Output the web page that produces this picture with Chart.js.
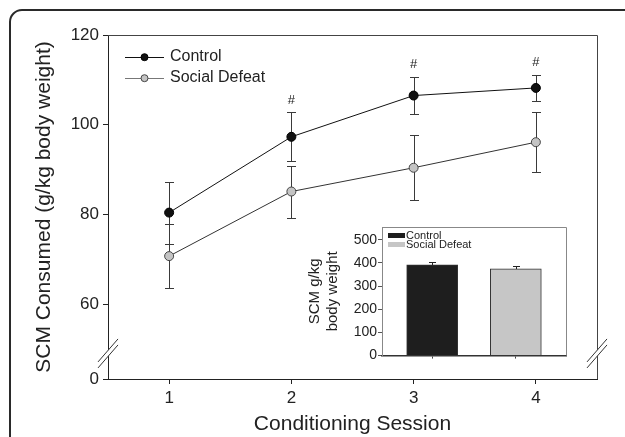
<!DOCTYPE html>
<html>
<head>
<meta charset="utf-8">
<script src="https://cdn.jsdelivr.net/npm/chart.js@4.4.1/dist/chart.umd.min.js"></script>
<style>
  html, body { margin: 0; padding: 0; background: #fff; overflow: hidden; }
  #wrap { position: relative; width: 625px; height: 437px; overflow: hidden; }
  #frame { position: absolute; left: 9px; top: 9px; width: 700px; height: 500px;
           border: 2px solid #2a2a2a; border-top-left-radius: 13px; }
  #main { position: absolute; left: 0; top: 0; }
  #inset { position: absolute; left: 300px; top: 215px; }
</style>
</head>
<body>
<div id="wrap">
  <div id="frame"></div>
  <canvas id="main" width="625" height="437"></canvas>
  <canvas id="inset" width="272" height="150"></canvas>
</div>
<script>
// main panel data
const sessions = [1, 2, 3, 4];
const controlMean = [80.4, 97.3, 106.5, 108.2];
const controlErr = [6.9, 5.5, 4.2, 2.9];
const defeatMean = [70.7, 85.1, 90.4, 96.1];
const defeatErr = [7.1, 5.8, 7.2, 6.7];
const sigMarks = ['', '#', '#', '#'];
const yTickValues = [60, 80, 100, 120];

// inset data
const insetGroups = ['Control', 'Social Defeat'];
const insetMean = [392, 374];
const insetErr = [11, 13];
const insetYTicks = [0, 100, 200, 300, 400, 500];

const FONT = '"Liberation Sans", Arial, sans-serif';
const INK = '#222';
// the axis is broken below 60: the "0" tick sits at this value
const axisBreakFloor = 43.3;

Chart.defaults.font.family = FONT;
Chart.defaults.color = INK;

// vertical error bars, drawn under the markers
const errorBars = {
    id: 'errorBars',
    beforeDatasetsDraw(chart, args, opts) {
        const ctx = chart.ctx;
        const xs = chart.scales.x, ys = chart.scales.y;
        ctx.save();
        ctx.lineWidth = 1;
        chart.data.datasets.forEach((ds) => {
            if (!ds.errors) return;
            ctx.strokeStyle = ds.errorColor || '#333';
            ds.data.forEach((pt, i) => {
                const px = Math.round(xs.getPixelForValue(pt.x)) + 0.5;
                const top = Math.round(ys.getPixelForValue(pt.y + ds.errors[i])) + 0.5;
                const bot = Math.round(ys.getPixelForValue(pt.y - ds.errors[i])) + 0.5;
                const half = opts.capWidth / 2;
                ctx.beginPath();
                ctx.moveTo(px, top); ctx.lineTo(px, bot);
                ctx.moveTo(px - half, top); ctx.lineTo(px + half, top);
                ctx.moveTo(px - half, bot); ctx.lineTo(px + half, bot);
                ctx.stroke();
            });
        });
        ctx.restore();
    }
};

// "#" above significant points
const sigLabels = {
    id: 'sigLabels',
    afterDatasetsDraw(chart, args, opts) {
        const ctx = chart.ctx;
        const xs = chart.scales.x, ys = chart.scales.y;
        ctx.save();
        ctx.font = opts.size + 'px ' + FONT;
        ctx.fillStyle = INK;
        ctx.textAlign = 'center';
        ctx.textBaseline = 'middle';
        chart.data.datasets.forEach((ds) => {
            if (!ds.marks) return;
            ds.data.forEach((pt, i) => {
                if (!ds.marks[i]) return;
                const px = xs.getPixelForValue(pt.x);
                const py = ys.getPixelForValue(pt.y + ds.errors[i]) - opts.offset;
                ctx.fillText(ds.marks[i], px, py);
            });
        });
        ctx.restore();
    }
};

// legend drawn inside the plot area
const insideLegend = {
    id: 'insideLegend',
    afterDraw(chart, args, opts) {
        const ctx = chart.ctx;
        const area = chart.chartArea;
        const x0 = area.left + opts.offsetX;
        let items;
        if (opts.swatch === 'line') {
            items = chart.data.datasets.map((ds) => ({ text: ds.label, ds: ds }));
        } else {
            const ds = chart.data.datasets[0];
            items = chart.data.labels.map((l, i) => ({ text: l, fill: ds.backgroundColor[i] }));
        }
        ctx.save();
        ctx.font = opts.size + 'px ' + FONT;
        ctx.textBaseline = 'middle';
        ctx.textAlign = 'left';
        items.forEach((it, i) => {
            const cy = area.top + opts.offsetY + i * opts.rowHeight;
            let textX;
            if (opts.swatch === 'line') {
                const ds = it.ds;
                ctx.strokeStyle = ds.legendLineColor || ds.borderColor;
                ctx.lineWidth = 1;
                ctx.beginPath();
                ctx.moveTo(x0, Math.round(cy) + 0.5);
                ctx.lineTo(x0 + opts.lineLength, Math.round(cy) + 0.5);
                ctx.stroke();
                ctx.beginPath();
                ctx.arc(x0 + opts.lineLength / 2, cy + 0.5, opts.pointRadius, 0, Math.PI * 2);
                ctx.fillStyle = ds.pointBackgroundColor;
                ctx.fill();
                ctx.strokeStyle = ds.pointBorderColor;
                ctx.stroke();
                textX = x0 + opts.lineLength + opts.gap;
            } else {
                ctx.fillStyle = it.fill;
                ctx.fillRect(x0, cy - opts.boxH / 2, opts.boxW, opts.boxH);
                textX = x0 + opts.boxW + opts.gap;
            }
            ctx.fillStyle = INK;
            ctx.fillText(it.text, textX, cy);
        });
        ctx.restore();
    }
};

// top and right edges of the plot box
const plotFrame = {
    id: 'plotFrame',
    afterDraw(chart, args, opts) {
        const ctx = chart.ctx;
        const a = chart.chartArea;
        ctx.save();
        ctx.strokeStyle = opts.color;
        ctx.lineWidth = 1;
        ctx.beginPath();
        ctx.moveTo(a.left, Math.round(a.top) + 0.5);
        ctx.lineTo(Math.round(a.right) + 0.5, Math.round(a.top) + 0.5);
        ctx.lineTo(Math.round(a.right) + 0.5, a.bottom);
        ctx.stroke();
        ctx.restore();
    }
};

// double-slash axis break marks on both sides
const axisBreaks = {
    id: 'axisBreaks',
    afterDraw(chart, args, opts) {
        const ctx = chart.ctx;
        const a = chart.chartArea;
        const cy = chart.scales.y.getPixelForValue(opts.value);
        const hw = opts.halfW, hh = opts.halfH, d = opts.gap;
        ctx.save();
        [a.left, a.right].forEach((cx) => {
            ctx.fillStyle = '#fff';
            ctx.beginPath();
            ctx.moveTo(cx - hw, cy + hh - d);
            ctx.lineTo(cx + hw, cy - hh - d);
            ctx.lineTo(cx + hw, cy - hh + d);
            ctx.lineTo(cx - hw, cy + hh + d);
            ctx.closePath();
            ctx.fill();
            ctx.strokeStyle = '#333';
            ctx.lineWidth = 1;
            ctx.beginPath();
            ctx.moveTo(cx - hw, cy + hh - d); ctx.lineTo(cx + hw, cy - hh - d);
            ctx.moveTo(cx - hw, cy + hh + d); ctx.lineTo(cx + hw, cy - hh + d);
            ctx.stroke();
        });
        ctx.restore();
    }
};

const toPoints = (means) => sessions.map((s, i) => ({ x: s, y: means[i] }));

new Chart(document.getElementById('main'), {
    type: 'line',
    data: {
        datasets: [{
            label: 'Control',
            data: toPoints(controlMean),
            errors: controlErr,
            marks: sigMarks,
            borderColor: '#111',
            borderWidth: 1,
            pointRadius: 4.5,
            pointBorderWidth: 1,
            pointBackgroundColor: '#111',
            pointBorderColor: '#000',
            errorColor: '#3a3a3a',
            tension: 0
        }, {
            label: 'Social Defeat',
            data: toPoints(defeatMean),
            errors: defeatErr,
            borderColor: '#333',
            legendLineColor: '#777',
            borderWidth: 1,
            pointRadius: 4.5,
            pointBorderWidth: 1,
            pointBackgroundColor: '#c4c4c4',
            pointBorderColor: '#444',
            errorColor: '#3a3a3a',
            tension: 0
        }]
    },
    options: {
        responsive: false,
        animation: false,
        layout: { padding: { left: 0, top: 35, right: 28, bottom: 0 } },
        plugins: {
            legend: { display: false },
            tooltip: { enabled: false },
            errorBars: { capWidth: 9 },
            sigLabels: { size: 13, offset: 12 },
            insideLegend: { swatch: 'line', offsetX: 17, offsetY: 21.7, rowHeight: 21,
                            lineLength: 39, gap: 6, pointRadius: 3.5, size: 16 },
            plotFrame: { color: '#444' },
            axisBreaks: { value: 49, halfW: 10, halfH: 11.5, gap: 3 }
        },
        scales: {
            x: {
                type: 'linear',
                min: 0.5,
                max: 4.5,
                afterBuildTicks: (s) => { s.ticks = sessions.map((v) => ({ value: v })); },
                afterFit: (s) => { s.height = 58; },
                grid: { drawOnChartArea: false, tickLength: 5, tickColor: INK },
                border: { color: INK, width: 1 },
                ticks: { color: INK, padding: 4, font: { size: 17 } },
                title: { display: true, text: 'Conditioning Session', color: INK,
                         font: { size: 21 }, padding: { top: 0, bottom: 0 } }
            },
            y: {
                type: 'linear',
                min: axisBreakFloor,
                max: 120,
                afterBuildTicks: (s) => {
                    s.ticks = [axisBreakFloor].concat(yTickValues).map((v) => ({ value: v }));
                },
                afterFit: (s) => { s.width = 108; },
                grid: { drawOnChartArea: false, tickLength: 5, tickColor: INK },
                border: { color: INK, width: 1 },
                ticks: {
                    color: INK, padding: 4, font: { size: 17 },
                    callback: (v) => (v === axisBreakFloor ? '0' : v)
                },
                title: { display: true, text: 'SCM Consumed (g/kg body weight)', color: INK,
                         font: { size: 21 }, padding: { top: 32, bottom: 0 } }
            }
        }
    },
    plugins: [errorBars, sigLabels, insideLegend, plotFrame, axisBreaks]
});

const insetFill = ['#1e1e1e', '#c6c6c6'];
const insetPositions = insetGroups.map((g, i) => i + 1);

new Chart(document.getElementById('inset'), {
    type: 'bar',
    data: {
        labels: insetGroups,
        datasets: [{
            label: 'SCM',
            data: insetPositions.map((p, i) => ({ x: p, y: insetMean[i] })),
            errors: insetErr,
            backgroundColor: insetFill,
            borderColor: '#333',
            borderWidth: 1,
            barThickness: 51,
            errorColor: '#222'
        }]
    },
    options: {
        responsive: false,
        animation: false,
        layout: { padding: { left: 0, top: 12, right: 6, bottom: 0 } },
        plugins: {
            legend: { display: false },
            tooltip: { enabled: false },
            errorBars: { capWidth: 7 },
            insideLegend: { swatch: 'box', offsetX: 6, offsetY: 8.5, rowHeight: 9,
                            boxW: 17, boxH: 5, gap: 1, size: 11 },
            plotFrame: { color: '#888' }
        },
        scales: {
            x: {
                type: 'linear',
                offset: false,
                min: 0.4,
                max: 2.6,
                afterBuildTicks: (s) => { s.ticks = insetPositions.map((v) => ({ value: v })); },
                afterFit: (s) => { s.height = 8; },
                grid: { offset: false, drawOnChartArea: false, tickLength: 3, tickColor: '#444' },
                border: { color: '#333', width: 1.5 },
                ticks: { callback: () => '' }
            },
            y: {
                min: 0,
                max: 555,
                afterBuildTicks: (s) => { s.ticks = insetYTicks.map((v) => ({ value: v })); },
                afterFit: (s) => { s.width = 82; },
                grid: { drawOnChartArea: false, tickLength: 4, tickColor: '#555' },
                border: { color: '#888', width: 1 },
                ticks: { color: INK, padding: 1, font: { size: 14 } },
                title: { display: true, text: ['SCM g/kg', 'body weight'], color: INK,
                         font: { size: 15, lineHeight: 1.2 }, padding: { top: 5.5, bottom: 0 } }
            }
        }
    },
    plugins: [errorBars, insideLegend, plotFrame]
});
</script>
</body>
</html>
